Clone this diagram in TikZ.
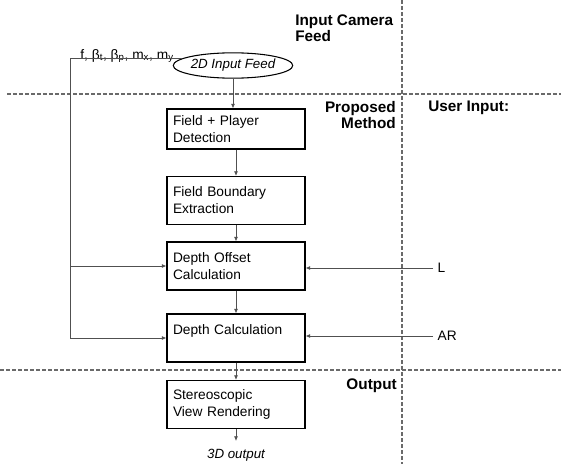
\documentclass[tikz,border=0pt]{standalone}
\usepackage{fontspec}
\setmainfont{Liberation Sans}
\setsansfont{Liberation Sans}
\usetikzlibrary{arrows.meta,positioning,calc,shapes.geometric}
\definecolor{Wire}{HTML}{505050}
\definecolor{Split}{HTML}{6A6A6A}

\begin{document}
\begin{tikzpicture}[x=0.75pt,y=-0.75pt,font=\fontsize{10.3}{12.75}\selectfont,procbox/.style={draw=black,line width=0.8pt,text width=94.5pt,minimum width=103.5pt,minimum height=36pt,inner xsep=4.5pt,align=left},zone/.style={font=\fontsize{11.5}{12}\selectfont\bfseries,inner sep=0pt},divider/.style={draw=Split,line width=0.8pt,dash pattern=on 3pt off 1.5pt},wire/.style={draw=Wire,line width=0.6pt},arrow/.style={wire,-{Latex[length=3.5pt,width=3pt]}}]
\useasboundingbox (0,0) rectangle (561,464);
\fill[white] (0,0) rectangle (561,464);
% stage dividers
\draw[divider] (7,94) -- (561,94);
\draw[divider] (0,370) -- (561,370);
\draw[divider] (402,0) -- (402,464);
\node[zone,anchor=north west,align=left] (camlbl) at (295,15){Input Camera\\Feed};
\node[zone,anchor=north east,align=right] (methlbl) at (396,101){Proposed\\Method};
\node[zone,anchor=north west] (userlbl) at (428,101){User Input:};
\node[zone,anchor=north east] (outlbl) at (397,379){Output};
% pipeline
\node[draw,ellipse,line width=0.8pt,minimum width=86pt,minimum height=19pt,inner sep=0pt,font=\fontsize{10}{12}\selectfont\itshape] (feed) at (233,65.5){2D Input Feed};
\node[procbox,minimum height=30pt] (detect) at (236,129){Field + Player\\Detection};
\node[procbox] (bound) at (236,200.5){Field Boundary\\Extraction};
\node[procbox] (offset) at (236,266){Depth Offset\\Calculation};
\node[procbox] (depth) at (236,338){Depth Calculation\\\mbox{}};
\node[procbox] (render) at (236,404.5){Stereoscopic\\View Rendering};
\node[anchor=north,inner ysep=6pt,font=\fontsize{10}{12}\selectfont\itshape] (out3d) at (236,441){3D output};
\draw[arrow] (feed.south) -- (feed.south |- detect.north);
\draw[arrow] (detect) -- (bound);
\draw[arrow] (bound) -- (offset);
\draw[arrow] (offset) -- (depth);
\draw[arrow] (depth) -- (render);
\draw[arrow] (render) -- (out3d);
% camera parameters
\coordinate (bus) at (70,0);
\node[anchor=base east,inner sep=0pt] (params) at (174,59){f, β\textsubscript{t}, β\textsubscript{p}, m\textsubscript{x}, m\textsubscript{y}};
\draw[arrow] (feed.172) -- (feed.172 -| bus) |- (depth.west);
\draw[arrow] (bus |- offset.west) -- (offset.west);
% user input
\node[anchor=west] (lenL) at (433,268){L};
\node[anchor=west] (ratio) at (433,336){AR};
\draw[arrow] (lenL.west) -- (offset.east |- lenL.west);
\draw[arrow] (ratio.west) -- (depth.east |- ratio.west);
\end{tikzpicture}
\end{document}
